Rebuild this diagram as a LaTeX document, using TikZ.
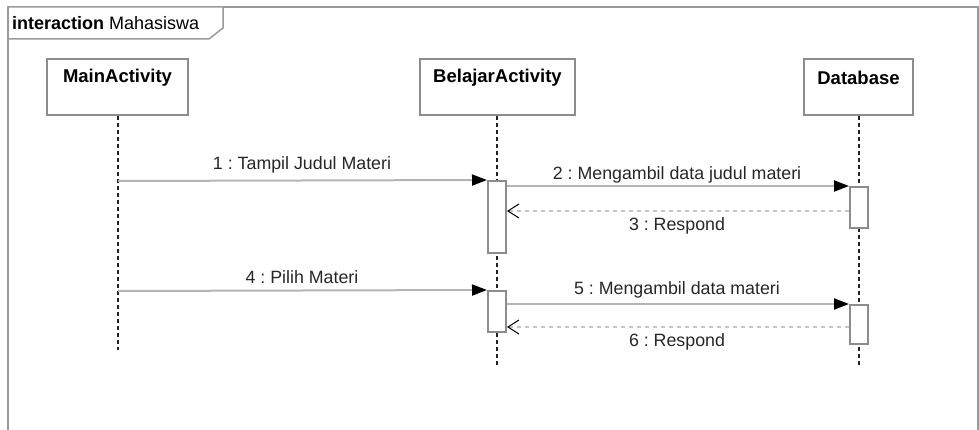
\documentclass[tikz,border=0pt]{standalone}
\usepackage{fontspec}
\setmainfont{Liberation Sans}
\frenchspacing
\usetikzlibrary{arrows.meta}
\definecolor{framegray}{HTML}{9A9A9A}
\definecolor{boxgray}{HTML}{8C8C8C}
\definecolor{linegray}{HTML}{B4B4B4}
\definecolor{retgray}{HTML}{C4C4C4}
\definecolor{lifeblack}{HTML}{222222}
\tikzset{
  framestyle/.style={draw=framegray, line width=1.5pt},
  headbox/.style={draw=boxgray, line width=2pt, fill=white, minimum width=#1, minimum height=56pt, inner sep=0pt},
  headtext/.style={font=\fontsize{18.5}{21}\selectfont\bfseries, inner sep=0pt, anchor=center},
  lifeline/.style={draw=lifeblack, line width=1.4pt, dash pattern=on 4pt off 3pt},
  actbox/.style={draw=boxgray, line width=2pt, fill=white, minimum width=18pt, inner sep=0pt},
  msg/.style={draw=linegray, line width=2pt, -{Triangle[length=15pt,width=11pt,color=black]}},
  ret/.style={draw=retgray, line width=2pt, dash pattern=on 4pt off 4pt, -{Straight Barb[length=11pt,width=14pt,line width=1pt,color=black]}},
  msglabel/.style={font=\fontsize{17.8}{20}\selectfont, text=black!85, inner sep=0pt},
  titletext/.style={font=\fontsize{18}{20}\selectfont, inner sep=0pt, anchor=west}
}
\begin{document}
\begin{tikzpicture}[x=1pt,y=-1pt]
\useasboundingbox (0,0) rectangle (979,430);
\clip (0,0) rectangle (979,430);
% frame
\draw[framestyle] (8,7) rectangle (978,445);
\draw[framestyle, fill=white] (8,7) -- (223,7) -- (223,28) -- (209,39) -- (8,39) -- cycle;
\node[titletext] (title) at (12,23) {\textbf{interaction} Mahasiswa};
% lifeline heads
\node[headbox=141pt] (main) at (117.5,87) {};
\node[headtext] (mainT) at (117.5,78) {MainActivity};
\node[headbox=155pt] (bel) at (497.5,87) {};
\node[headtext] (belT) at (497.5,78) {BelajarActivity};
\node[headbox=109pt] (db) at (858.5,87) {};
\node[headtext] (dbT) at (858.5,78) {Database};
% lifeline ends
\coordinate (mainEnd) at (118,350);
\coordinate (belEnd) at (497,366);
\coordinate (dbEnd) at (859,366);
\draw[lifeline] (main.south -| mainEnd) -- (mainEnd);
\draw[lifeline] (bel.south -| belEnd) -- (belEnd);
\draw[lifeline] (db.south -| dbEnd) -- (dbEnd);
% activations
\node[actbox, minimum height=72pt] (b1) at (497,217) {};
\node[actbox, minimum height=41pt] (b2) at (497,311.5) {};
\node[actbox, minimum height=41pt] (d1) at (859,207.5) {};
\node[actbox, minimum height=39pt] (d2) at (859,324.5) {};
% message anchor points on MainActivity lifeline
\coordinate (m1) at (118,181);
\coordinate (m4) at (118,291);
\coordinate (y3) at (0,211);
\coordinate (y6) at (0,327);
% messages
\draw[msg] (m1) -- (b1.north west);
\node[msglabel] (l1) at (302,165) {1 : Tampil Judul Materi};
\draw[msg] (b1.east |- d1.north) -- (d1.north west);
\node[msglabel] (l2) at (677,175) {2 : Mengambil data judul materi};
\draw[ret] (d1.west |- y3) -- (b1.east |- y3);
\node[msglabel] (l3) at (677,226) {3 : Respond};
\draw[msg] (m4) -- (b2.north west);
\node[msglabel] (l4) at (302,277) {4 : Pilih Materi};
\draw[msg] (b2.east |- d2.north) -- (d2.north west);
\node[msglabel] (l5) at (677,290) {5 : Mengambil data materi};
\draw[ret] (d2.west |- y6) -- (b2.east |- y6);
\node[msglabel] (l6) at (677,342) {6 : Respond};
\end{tikzpicture}
\end{document}
